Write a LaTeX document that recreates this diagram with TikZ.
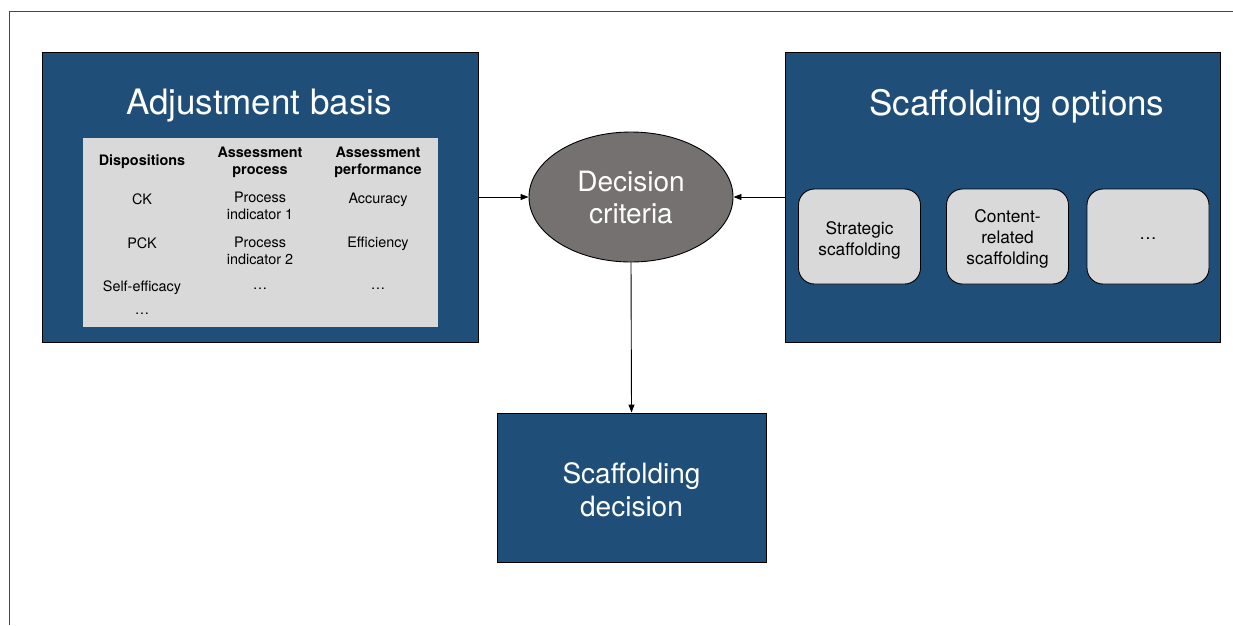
\documentclass[tikz,border=0pt]{standalone}
\usepackage{fontspec}
\setmainfont{TeX Gyre Heros}
\usetikzlibrary{arrows.meta,shapes.geometric}
\definecolor{navy}{RGB}{31,78,121}
\definecolor{panel}{RGB}{217,217,217}
\definecolor{stone}{RGB}{117,113,113}
\definecolor{framegray}{RGB}{70,70,70}
\tikzset{
  bigbox/.style={draw=black,line width=0.9pt,fill=navy},
  option/.style={draw=black,line width=0.9pt,fill=panel,rounded corners=16pt,
    minimum width=122pt,minimum height=95pt,inner sep=0pt},
  optiontext/.style={align=center,inner sep=0pt,font=\fontsize{17.3}{21}\selectfont},
  cell/.style={align=center,inner sep=0pt,font=\fontsize{14.4}{17}\selectfont},
  head/.style={cell,font=\fontsize{14.4}{17}\selectfont\bfseries},
  conn/.style={line width=0.9pt,-{Triangle[length=8pt,width=6pt]}}
}
\begin{document}
\begin{tikzpicture}[x=1pt,y=-1pt]
\useasboundingbox (0,0) rectangle (1233,625);
% outer frame (top and left edges)
\draw[framegray,line width=1pt] (9,625) -- (9,11) -- (1233,11);

% adjustment basis
\draw[bigbox] (42,52) rectangle (478,342);
\coordinate (abE) at (478,197);
\node[text=white,font=\fontsize{35}{40}\selectfont] (abT) at (259,106) {Adjustment basis};
\fill[panel] (83,138) rectangle (438,327);
\node[head] (h1) at (142,162) {Dispositions};
\node[head] (h2) at (260,162) {Assessment\\process};
\node[head] (h3) at (378,162) {Assessment\\performance};
\node[cell] (c11) at (142,199) {CK};
\node[cell] (c12) at (260,206) {Process\\indicator 1};
\node[cell] (c13) at (378,200) {Accuracy};
\node[cell] (c21) at (142,243) {PCK};
\node[cell] (c22) at (260,251) {Process\\indicator 2};
\node[cell] (c23) at (378,244) {Efficiency};
\node[cell] (c31) at (142,288) {Self-efficacy};
\node[cell] (c32) at (260,289) {\dots};
\node[cell] (c33) at (378,289) {\dots};
\node[cell] (c41) at (142,314) {\dots};

% scaffolding options
\draw[bigbox] (785,52) rectangle (1220,342);
\coordinate (soW) at (785,197);
\node[text=white,font=\fontsize{35}{40}\selectfont] (soT) at (1017,106) {Scaffolding options};
\node[option] (o1) at (859.5,236.5) {};
\node[option] (o2) at (1007.5,236.5) {};
\node[option] (o3) at (1148,236.5) {};
\node[optiontext] (o1t) at (859.5,240) {Strategic\\scaffolding};
\node[optiontext] (o2t) at (1007.5,239) {Content-\\related\\scaffolding};
\node[optiontext] (o3t) at (1148,239) {\dots};

% decision criteria
\node[ellipse,draw=black,line width=0.9pt,fill=stone,minimum width=204pt,minimum height=130pt,
  inner sep=0pt,align=center,text=white,font=\fontsize{28}{32}\selectfont] (dc) at (631,197) {Decision\\criteria};

% scaffolding decision
\node[bigbox,minimum width=269pt,minimum height=149pt,inner sep=0pt] (sd) at (631.5,487.5) {};
\node[align=center,inner sep=0pt,text=white,font=\fontsize{28}{33}\selectfont] (sdt) at (631.5,489.5) {Scaffolding\\decision};

% connectors
\draw[conn] (abE) -- (dc.west);
\draw[conn] (soW) -- (dc.east);
\draw[conn] (dc.south) -- (sd.north);
\end{tikzpicture}
\end{document}
